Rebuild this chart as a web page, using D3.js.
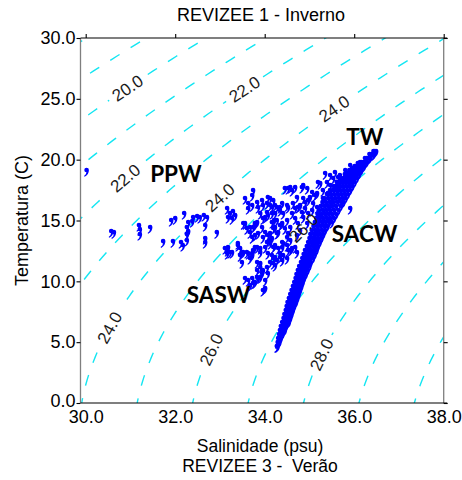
<!DOCTYPE html>
<html><head><meta charset="utf-8">
<script src="https://cdn.jsdelivr.net/npm/d3@7"></script>
<style>body{margin:0;background:#fff}svg{display:block}</style>
</head><body>
<svg id="c" width="462" height="480"></svg>
<script>
// ---------- data ----------
const titleText = "REVIZEE 1 - Inverno";
const xLabelText = "Salinidade (psu)";
const subLabelText = "REVIZEE 3 -  Verão";
const yLabelText = "Temperatura (C)";
const xTicks = [30, 32, 34, 36, 38];
const yTicks = [0, 5, 10, 15, 20, 25, 30];
const sigmaLevels = [18, 19, 20, 21, 22, 23, 24, 25, 26, 27, 28, 29, 30];
const labelLevels = [20, 22, 22, 24, 24, 24, 26, 26, 28];
const labelTemps  = [25.9, 25.8, 18.5, 24.2, 16.9, 6.2, 14.4, 4.4, 4.0];
const massNames = ["TW", "SACW", "PPW", "SASW"];
const massS = [35.82, 35.50, 31.44, 32.26];
const massT = [21.2, 13.23, 18.16, 8.22];

// dense SACW band: temperature of each row and salinities in that row
const bandT = [4.68,5.01,5.34,5.67,6.00,6.33,6.66,6.99,7.31,7.64,7.97,8.30,8.63,8.96,9.29,9.62,9.94,10.27,10.60,10.93,11.26,11.59,11.92,12.25,12.58,12.90,13.23,13.56,13.89,14.22,14.55,14.88,15.20,15.53,15.86,16.19,16.52,16.85,17.17,17.51,17.84,18.17,18.49,18.82,19.15,19.48,19.81,20.14,20.46,20.71];
const bandS = [
 [34.27,34.29],[34.29,34.31,34.33],[34.30,34.33,34.36],[34.32,34.36,34.40],
 [34.34,34.38,34.42,34.45],[34.36,34.40,34.44,34.48],
 [34.39,34.43,34.47,34.51,34.54],[34.42,34.46,34.50,34.54,34.57],
 [34.44,34.48,34.52,34.56,34.60],[34.47,34.51,34.55,34.59,34.63],
 [34.49,34.54,34.58,34.62,34.66],[34.51,34.56,34.61,34.66,34.70],
 [34.54,34.59,34.64,34.69,34.73],[34.57,34.62,34.67,34.72,34.76],
 [34.60,34.65,34.70,34.75,34.79],[34.63,34.68,34.73,34.78,34.82],
 [34.66,34.71,34.76,34.81,34.85],[34.69,34.74,34.79,34.84,34.88],
 [34.71,34.77,34.82,34.87,34.92],[34.74,34.80,34.85,34.91,34.96],
 [34.77,34.83,34.88,34.94,35.00],[34.81,34.87,34.92,34.98,35.03],
 [34.84,34.90,34.96,35.02,35.08],[34.87,34.93,35.00,35.06,35.12],
 [34.90,34.97,35.03,35.10,35.16],[34.94,35.00,35.07,35.13,35.19],
 [34.97,35.04,35.10,35.17,35.23],[35.00,35.07,35.13,35.20,35.27],
 [35.02,35.10,35.17,35.24,35.31],[35.05,35.13,35.20,35.28,35.35],
 [35.09,35.17,35.25,35.33,35.40],[35.12,35.20,35.28,35.36,35.44,35.50],
 [35.15,35.23,35.31,35.39,35.47,35.55],[35.18,35.27,35.35,35.43,35.51,35.60],
 [35.21,35.30,35.38,35.46,35.55,35.65],[35.25,35.34,35.42,35.50,35.59,35.70],
 [35.29,35.37,35.45,35.54,35.63,35.72,35.76],[35.33,35.42,35.50,35.58,35.66,35.74,35.81],
 [35.39,35.47,35.55,35.63,35.71,35.79,35.86],[35.46,35.53,35.60,35.68,35.76,35.84,35.91],
 [35.54,35.60,35.67,35.75,35.82,35.89,35.96],[35.61,35.68,35.74,35.81,35.88,35.95,36.01],
 [35.69,35.76,35.82,35.88,35.94,36.00,36.06],[35.79,35.85,35.91,35.96,36.01,36.06,36.11],
 [35.89,35.95,36.00,36.04,36.08,36.12,36.16],[36.01,36.06,36.10,36.14,36.18,36.22],
 [36.13,36.17,36.21,36.25,36.28],[36.24,36.28,36.32,36.35],[36.34,36.38,36.42,36.44],
 [36.43,36.46,36.49]
];

// scattered stations (salinity, temperature)
const fanPoints = [
 [30.02,19.15],[30.57,14.14],[30.63,14.05],[31.19,14.63],[31.21,14.30],[31.21,13.89],[31.44,14.47],
 [31.91,15.04],[32.00,15.20],[32.20,15.62],[32.29,14.88],[32.26,14.47],[32.29,14.14],[32.26,13.89],
 [31.73,13.31],[31.95,13.31],[32.13,13.23],[32.26,13.40],[32.40,15.29],[32.49,15.37],[32.55,15.29],
 [32.64,15.45],[32.71,15.29],[32.67,13.56],[32.93,14.05],[32.67,14.63],[32.38,14.96],
 [33.16,16.03],[33.22,15.62],[33.29,15.78],[33.34,15.45],[33.18,15.29],[33.27,15.20],
 [33.56,16.85],[33.63,16.44],[33.72,17.10],[33.63,16.03],[33.74,17.51],
 [33.56,14.79],[33.60,14.38],[33.67,14.05],[33.74,14.47],[33.72,13.64],[33.78,14.79],
 [33.18,12.82],[33.27,12.41],[33.40,13.15],[33.45,12.74],[33.60,12.41],[33.72,12.33],[33.78,12.82],
 [33.11,12.74],[33.16,12.33],[33.52,12.41],
 [33.56,10.27],[33.63,10.11],[33.72,10.27],[33.78,9.94],[33.83,10.36],[33.67,9.70],[33.74,9.86],
 [33.85,10.27],[33.90,10.36],[33.94,10.68],[33.96,10.93],[33.96,9.29],[34.01,10.11],[34.05,11.18],
 [34.07,10.68],[34.01,9.45],
 [33.16,12.58],[33.22,12.41],[33.40,12.99],[33.49,12.41],[33.45,12.16],[33.63,12.33],[33.72,12.16],
 [33.67,11.92],[33.83,12.82],[33.90,12.41],[34.12,13.15],[34.19,12.82],[34.30,12.74],[34.39,12.82],
 [34.50,12.99],[34.52,12.58],[34.34,12.00],[34.41,12.16],[34.50,11.92],[34.12,11.59],[34.23,11.34],
 [32.67,13.23],[32.17,12.99],[33.83,11.59],[33.90,11.18],[33.83,10.93],[34.16,12.16],[34.27,11.75],
 [34.34,12.33],[34.57,12.58],[34.68,12.82],
 [33.83,16.52],[33.94,16.68],[33.96,16.27],[34.05,16.44],[34.07,16.93],[34.19,16.68],[34.23,16.27],
 [34.01,14.05],[34.07,13.81],[34.12,13.40],[34.05,13.23],[33.96,13.64],[34.19,14.38],[34.21,15.04],
 [34.16,15.62],[33.74,12.58],[34.07,12.33],[34.19,11.92],[33.72,16.27],[33.85,16.11],[34.12,16.85],
 [34.16,16.11],[34.05,15.70],[34.34,15.86],[34.41,15.62],[34.52,17.67],[34.61,17.51],[34.68,17.75],
 [34.83,17.75],[34.95,17.67],[35.19,18.16],[35.35,18.90],[34.72,16.93],[34.86,16.85],[34.97,16.68],
 [35.06,17.34],[35.12,17.10],[35.39,18.16],[35.46,17.92],[35.53,18.49],[35.30,17.51],[35.41,17.26],
 [35.68,18.74],[35.75,18.33],[35.84,18.90],[35.95,19.31],[36.02,18.90],[36.08,19.73],[36.17,19.40],
 [34.39,16.44],[34.50,16.27],[34.63,16.44],[34.74,16.11],[34.83,15.70],[34.90,16.03],[34.97,15.62],
 [35.06,15.86],[35.17,16.11],[35.24,15.45],[33.52,14.79],[33.67,14.47],[33.83,14.88],[34.01,15.29],
 [34.16,14.88],[34.27,15.04],[34.34,14.63],[34.50,15.04],[34.57,14.47],[34.68,15.20],[34.74,14.79],
 [34.86,15.29],[34.95,14.79],[33.78,13.81],[34.16,13.56],[34.27,13.97],[34.41,13.15],[34.57,13.40],
 [34.72,13.81],[34.79,14.22],[33.90,12.74],[34.23,12.00],[34.61,12.74],[34.72,12.41],[33.90,11.51],
 [34.19,11.51],[34.39,11.75],[33.49,11.59],
 [35.24,18.08],[34.86,17.92],[34.57,17.75],[34.45,17.67],[34.27,16.11],[35.46,18.74],[35.57,18.99],
 [35.64,18.57],[35.80,19.15],[35.91,19.56],[36.13,19.15],[35.30,16.85],[35.50,16.52],[35.01,16.93],
 [35.08,16.44],[35.17,17.26],[35.68,17.51],[35.91,16.03],
 [34.12,16.27],[34.34,16.11],[33.90,15.62],[33.96,15.20],[34.07,15.45],[34.23,15.62],[34.39,14.79],
 [34.52,16.11],[34.61,15.62],[34.68,16.03],[34.79,16.27],[34.90,16.52],[33.78,14.63],[33.94,14.47],
 [33.85,13.97],[34.12,13.97],[34.23,14.47],[34.30,14.05],[34.45,14.38],[34.52,13.97],[34.50,13.64],
 [34.01,12.82],[34.23,12.99],[34.39,13.23]
];

// ---------- equation of state (UNESCO 1981, p = 0) ----------
function sigmaT(S, T) {
  const rw = 999.842594 + 6.793952e-2*T - 9.095290e-3*T*T + 1.001685e-4*T**3 - 1.120083e-6*T**4 + 6.536332e-9*T**5;
  const A = 8.24493e-1 - 4.0899e-3*T + 7.6438e-5*T*T - 8.2467e-7*T**3 + 5.3875e-9*T**4;
  const B = -5.72466e-3 + 1.0227e-4*T - 1.6546e-6*T*T;
  const C = 4.8314e-4;
  return rw + A*S + B*Math.pow(S, 1.5) + C*S*S - 1000;
}
function salinityOn(level, T) {
  let lo = 15, hi = 50;
  for (let i = 0; i < 60; i++) {
    const m = (lo + hi) / 2;
    if (sigmaT(m, T) < level) lo = m; else hi = m;
  }
  return (lo + hi) / 2;
}

// ---------- layout ----------
const svg = d3.select("#c");
const x = d3.scaleLinear().domain([30, 38]).range([85.7, 443.7]);
const y = d3.scaleLinear().domain([0, 30]).range([403, 38]);
const pL = 80.5, pR = x(38), pT = y(30), pB = y(0);
const font = "'Liberation Sans', Arial, sans-serif";

svg.append("clipPath").attr("id", "clip")
  .append("rect").attr("x", pL).attr("y", pT).attr("width", pR - pL).attr("height", pB - pT);

// isopycnals
const tempsGrid = d3.range(-0.5, 31, 0.25);
const line = d3.line().x(d => x(d[0])).y(d => y(d[1]));
const cg = svg.append("g").attr("clip-path", "url(#clip)");
cg.selectAll("path.iso").data(sigmaLevels).join("path")
  .attr("class", "iso")
  .attr("d", lv => line(tempsGrid.map(t => [salinityOn(lv, t), t])))
  .attr("fill", "none").attr("stroke", "#14e6f2").attr("stroke-width", 1.4)
  .attr("stroke-dasharray", "11,13");

// contour label geometry
const labels = labelLevels.map((lv, i) => {
  const t = labelTemps[i];
  const s = salinityOn(lv, t);
  const a = [x(salinityOn(lv, t - 0.4)), y(t - 0.4)];
  const b = [x(salinityOn(lv, t + 0.4)), y(t + 0.4)];
  const ang = Math.atan2(b[1] - a[1], b[0] - a[0]) * 180 / Math.PI;
  return {lv, px: x(s), py: y(t), ang};
});
const lbg = svg.append("g").attr("clip-path", "url(#clip)");
lbg.selectAll("rect").data(labels).join("rect")
  .attr("transform", d => `translate(${d.px},${d.py}) rotate(${d.ang})`)
  .attr("x", -22).attr("y", -8).attr("width", 44).attr("height", 16).attr("fill", "#fff");

// data markers (comma shaped)
const marker = "M-1.9,0 A1.9,1.9 0 1,1 1.9,0 Q1.9,3.6 -1.6,5.6 L-2.1,4.9 Q-0.2,3.6 -0.1,1.9 A1.9,1.9 0 0,1 -1.9,0 Z";
const bandPoints = bandT.flatMap((t, i) => bandS[i].map(s => [s, t]));
const allPoints = fanPoints.concat(bandPoints);
svg.append("g").attr("clip-path", "url(#clip)")
  .selectAll("path").data(allPoints).join("path")
  .attr("d", marker)
  .attr("transform", d => `translate(${x(d[0])},${y(d[1])}) scale(1.22)`)
  .attr("fill", "#0000ff");

// contour label text
svg.append("g").selectAll("text").data(labels).join("text")
  .attr("transform", d => `translate(${d.px},${d.py}) rotate(${d.ang})`)
  .attr("text-anchor", "middle").attr("dy", "0.36em")
  .attr("font-family", font).attr("font-size", 17).attr("fill", "#1a1a1a")
  .text(d => d3.format(".1f")(d.lv));

// water mass names
svg.append("g").selectAll("text").data(massNames).join("text")
  .attr("x", (d, i) => x(massS[i])).attr("y", (d, i) => y(massT[i]))
  .attr("font-family", "Lato, 'Open Sans', sans-serif").attr("font-weight", 700)
  .attr("font-size", 22.5).attr("fill", "#000")
  .text(d => d);

// frame
const fr = svg.append("g");
fr.append("line").attr("x1", pL).attr("x2", pL).attr("y1", pT).attr("y2", pB).attr("stroke", "#7f7f7f").attr("stroke-width", 1.3);
fr.append("line").attr("x1", pR).attr("x2", pR).attr("y1", pT).attr("y2", pB).attr("stroke", "#7f7f7f").attr("stroke-width", 1.3);
fr.append("line").attr("x1", pL).attr("x2", pR + 3.5).attr("y1", pT).attr("y2", pT).attr("stroke", "#000").attr("stroke-width", 1.2);
fr.append("line").attr("x1", pL).attr("x2", pR + 3.5).attr("y1", pB).attr("y2", pB).attr("stroke", "#000").attr("stroke-width", 1.2);

// axes
const fmt = d3.format(".1f");
const axL = svg.append("g").attr("transform", `translate(${pL},0)`)
  .call(d3.axisLeft(y).tickValues(yTicks).tickFormat(fmt).tickSize(4).tickPadding(1));
const axB = svg.append("g").attr("transform", `translate(0,${pB})`)
  .call(d3.axisBottom(x).tickValues(xTicks).tickFormat(fmt).tickSize(0).tickPadding(7));
const axT = svg.append("g").attr("transform", `translate(0,${pT})`)
  .call(d3.axisTop(x).tickValues(xTicks).tickFormat("").tickSize(4));
const axR = svg.append("g").attr("transform", `translate(${pR},0)`)
  .call(d3.axisRight(y).tickValues(yTicks).tickFormat("").tickSize(4));
[axL, axB, axT, axR].forEach(g => {
  g.select(".domain").remove();
  g.selectAll("text").attr("font-family", font).attr("font-size", 18).attr("fill", "#000");
  g.selectAll("line").attr("stroke", "#000").attr("stroke-width", 1.1);
});
axL.selectAll(".tick").filter(d => d === 0).select("text").attr("dy", "0.2em");

// titles
svg.append("text").attr("x", 261).attr("y", 21).attr("text-anchor", "middle")
  .attr("font-family", font).attr("font-size", 18).text(titleText);
svg.append("text").attr("x", 260).attr("y", 452).attr("text-anchor", "middle")
  .attr("font-family", font).attr("font-size", 17.5).text(xLabelText);
svg.append("text").attr("x", 260).attr("y", 472).attr("text-anchor", "middle")
  .attr("font-family", font).attr("font-size", 17.5).style("white-space", "pre").text(subLabelText);
svg.append("text").attr("transform", `translate(28,${(pT + pB) / 2}) rotate(-90)`)
  .attr("text-anchor", "middle").attr("font-family", font).attr("font-size", 18).text(yLabelText);
</script>
</body></html>
